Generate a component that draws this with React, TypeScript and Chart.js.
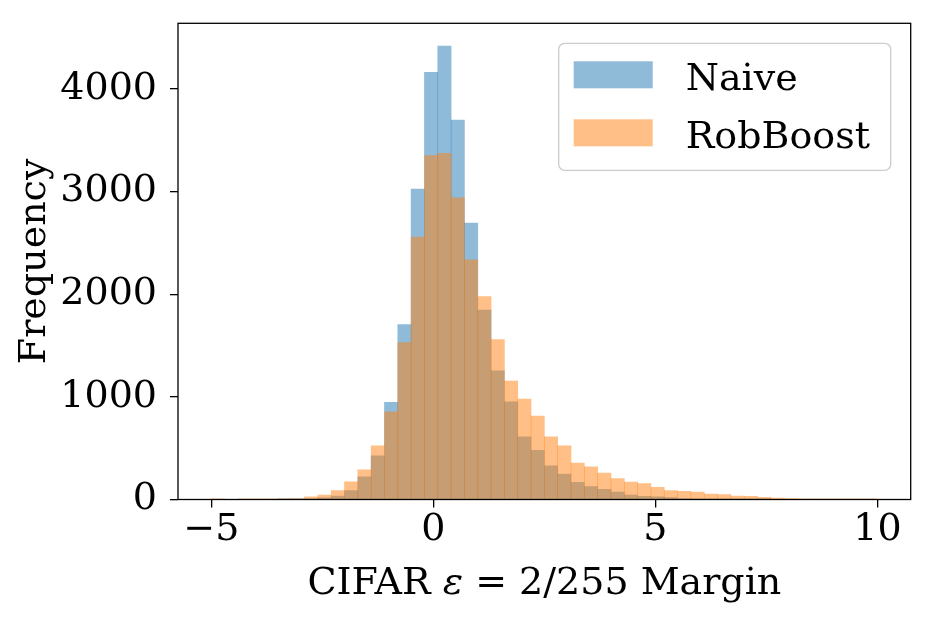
import { useEffect, useRef } from "react";
import { Chart, registerables } from "chart.js";

Chart.register(...registerables);

// histogram bins (width 0.3) from -5 to 10
const binCenters = [
  -4.85, -4.55, -4.25, -3.95, -3.65, -3.35, -3.05, -2.75, -2.45, -2.15,
  -1.85, -1.55, -1.25, -0.95, -0.65, -0.35, -0.05, 0.25, 0.55, 0.85,
  1.15, 1.45, 1.75, 2.05, 2.35, 2.65, 2.95, 3.25, 3.55, 3.85,
  4.15, 4.45, 4.75, 5.05, 5.35, 5.65, 5.95, 6.25, 6.55, 6.85,
  7.15, 7.45, 7.75, 8.05, 8.35, 8.65, 8.95, 9.25, 9.55, 9.85,
];

const naiveCounts = [
  0, 0, 0, 0, 0, 1, 2, 5, 16, 34,
  86, 220, 425, 946, 1705, 3024, 4162, 4418, 3698, 2693,
  1845, 1254, 952, 611, 479, 329, 248, 167, 125, 100,
  73, 44, 32, 25, 18, 10, 7, 5, 3, 2,
  1, 1, 0, 0, 0, 0, 0, 0, 0, 0,
];

const robBoostCounts = [
  1, 0, 1, 2, 3, 6, 10, 25, 42, 86,
  172, 290, 522, 855, 1530, 2557, 3351, 3374, 2939, 2336,
  1976, 1559, 1153, 978, 813, 611, 524, 355, 319, 258,
  203, 170, 154, 119, 86, 80, 73, 54, 47, 34,
  31, 21, 15, 10, 6, 4, 3, 2, 2, 1,
];

const seriesLabels = ["Naive", "RobBoost"];
const xTickValues = [-5, 0, 5, 10];
const yTickValues = [0, 1000, 2000, 3000, 4000];

const FONT_FAMILY = "'DejaVu Serif', 'Liberation Serif', serif";
const BLUE = "rgba(31, 119, 180, 0.5)";
const ORANGE = "rgba(255, 127, 14, 0.5)";

// black box round the plot area
const framePlugin = {
  id: "frame",
  afterDatasetsDraw(chart: any) {
    const { ctx, chartArea: a } = chart;
    ctx.save();
    ctx.strokeStyle = "#000";
    ctx.lineWidth = 1.3;
    ctx.strokeRect(a.left, a.top, a.right - a.left, a.bottom - a.top);
    ctx.restore();
  },
};

// x label with an italic epsilon, like matplotlib mathtext
const xLabelPlugin = {
  id: "xLabel",
  afterDraw(chart: any) {
    const { ctx, chartArea: a } = chart;
    const parts = [
      { t: "CIFAR ", italic: false },
      { t: "\u03b5", italic: true },
      { t: " = 2/255 Margin", italic: false },
    ];
    ctx.save();
    ctx.fillStyle = "#000";
    ctx.textBaseline = "alphabetic";
    ctx.textAlign = "left";
    const fontFor = (it: boolean) => `${it ? "italic " : ""}38px ${FONT_FAMILY}`;
    let total = 0;
    parts.forEach((p) => {
      ctx.font = fontFor(p.italic);
      total += ctx.measureText(p.t).width;
    });
    let x = (a.left + a.right) / 2 - total / 2;
    parts.forEach((p) => {
      ctx.font = fontFor(p.italic);
      ctx.fillText(p.t, x, 594);
      x += ctx.measureText(p.t).width;
    });
    ctx.restore();
  },
};

// matplotlib style legend in the upper right corner
const boxLegendPlugin = {
  id: "boxLegend",
  afterDraw(chart: any) {
    const { ctx, chartArea: a } = chart;
    const w = 332;
    const h = 127;
    const x = a.right - 20 - w;
    const y = a.top + 20;
    ctx.save();
    ctx.beginPath();
    ctx.roundRect(x, y, w, h, 6);
    ctx.fillStyle = "rgba(255,255,255,0.8)";
    ctx.fill();
    ctx.strokeStyle = "#cccccc";
    ctx.lineWidth = 1.3;
    ctx.stroke();

    ctx.font = `38px ${FONT_FAMILY}`;
    ctx.textBaseline = "alphabetic";
    ctx.textAlign = "left";
    chart.data.datasets.forEach((ds: any, i: number) => {
      const rowTop = y + 18 + i * 58;
      ctx.fillStyle = ds.backgroundColor;
      ctx.fillRect(x + 15, rowTop, 79, 27);
      ctx.fillStyle = "#000";
      ctx.fillText(ds.label, x + 127, rowTop + 29);
    });
    ctx.restore();
  },
};

function fmt(v: number) {
  return v < 0 ? "\u2212" + Math.abs(v) : String(v);
}

export default function App() {
  const canvasRef = useRef<HTMLCanvasElement>(null);

  useEffect(() => {
    document.body.style.margin = "0";
    if (!canvasRef.current) return;

    const chart = new Chart(canvasRef.current, {
      type: "bar",
      data: {
        datasets: [
          {
            label: seriesLabels[0],
            data: binCenters.map((x, i) => ({ x, y: naiveCounts[i] })),
            backgroundColor: BLUE,
            borderWidth: 0,
            order: 2,
          },
          {
            label: seriesLabels[1],
            data: binCenters.map((x, i) => ({ x, y: robBoostCounts[i] })),
            backgroundColor: ORANGE,
            borderWidth: 0,
            order: 1,
          },
        ],
      },
      options: {
        animation: false,
        responsive: true,
        maintainAspectRatio: false,
        grouped: false,
        barPercentage: 1,
        categoryPercentage: 1,
        layout: { padding: { left: 0, right: 23.3, top: 23.3, bottom: 0 } },
        plugins: {
          legend: { display: false },
          tooltip: { enabled: false },
        },
        scales: {
          x: {
            type: "linear",
            offset: false,
            min: -5.75,
            max: 10.75,
            afterBuildTicks: (scale: any) => {
              scale.ticks = xTickValues.map((value) => ({ value }));
            },
            afterFit: (scale: any) => {
              scale.height = 117.5;
              scale.paddingLeft = 0;
              scale.paddingRight = 0;
            },
            grid: {
              drawOnChartArea: false,
              drawTicks: true,
              tickLength: 8,
              color: "#000",
              lineWidth: 1.3,
              offset: false,
            },
            border: { display: false },
            ticks: {
              color: "#000",
              padding: 0,
              maxRotation: 0,
              font: { family: FONT_FAMILY, size: 38 },
              callback: (v: any) => fmt(Number(v)),
            },
          },
          y: {
            type: "linear",
            min: 0,
            max: 4640,
            afterBuildTicks: (scale: any) => {
              scale.ticks = yTickValues.map((value) => ({ value }));
            },
            afterFit: (scale: any) => {
              scale.width = 178;
              scale.paddingTop = 0;
              scale.paddingBottom = 0;
            },
            grid: {
              drawOnChartArea: false,
              drawTicks: true,
              tickLength: 8,
              color: "#000",
              lineWidth: 1.3,
            },
            border: { display: false },
            ticks: {
              color: "#000",
              padding: 13,
              font: { family: FONT_FAMILY, size: 38 },
              callback: (v: any) => fmt(Number(v)),
            },
            title: {
              display: true,
              text: "Frequency",
              color: "#000",
              font: { family: FONT_FAMILY, size: 38 },
              padding: { top: 12, bottom: 0 },
            },
          },
        },
      } as any,
      plugins: [framePlugin, xLabelPlugin, boxLegendPlugin],
    });

    return () => {
      chart.destroy();
    };
  }, []);

  return (
    <div style={{ position: "relative", width: 934, height: 617 }}>
      <canvas ref={canvasRef} />
    </div>
  );
}
